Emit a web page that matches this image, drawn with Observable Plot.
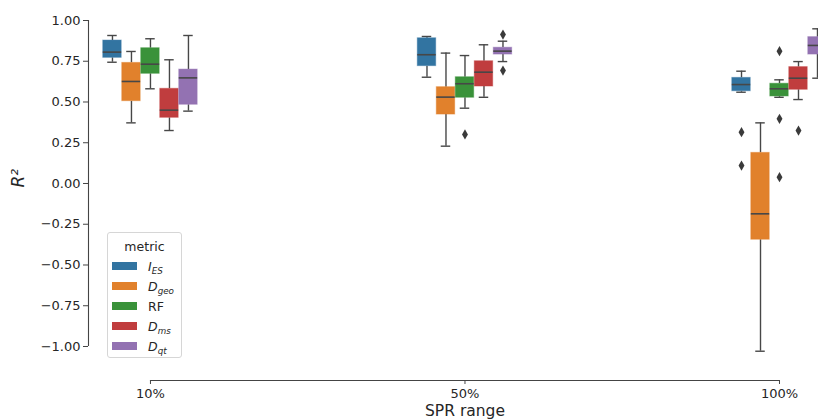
<!DOCTYPE html>
<html>
<head>
<meta charset="utf-8">
<script src="https://cdn.jsdelivr.net/npm/d3@7"></script>
<script src="https://cdn.jsdelivr.net/npm/@observablehq/plot@0.6"></script>
<style>
  html, body { margin: 0; padding: 0; background: #fff; }
  #wrap { position: relative; width: 818px; height: 420px; font-family: "DejaVu Sans", sans-serif; color: #262626; }
  .legend { position: absolute; left: 107px; top: 232px; width: 75px; height: 126px;
            border: 1px solid #d6d6d6; border-radius: 3px; background: rgba(255,255,255,0.85); box-sizing: border-box; }
  .legend .title { position: absolute; left: 0; right: 0; top: 6px; text-align: center; font-size: 12.5px; }
  .legend .item { position: absolute; left: 4px; height: 18px; display: flex; align-items: center; font-size: 12.5px; }
  .legend .sw { width: 25px; height: 8px; margin-right: 11px; }
  .legend sub { font-size: 70%; vertical-align: -0.35em; line-height: 0; }
</style>
</head>
<body>
<div id="wrap"></div>
<script>
// SPR range groups and the five metrics compared in each
const ranges = ["10%", "50%", "100%"];
const metrics = ["I_ES", "D_geo", "RF", "D_ms", "D_qt"];
const metricLabels = ["<i>I</i><sub><i>ES</i></sub>", "<i>D</i><sub><i>geo</i></sub>", "RF",
                      "<i>D</i><sub><i>ms</i></sub>", "<i>D</i><sub><i>qt</i></sub>"];
const colors = ["#3274a1", "#e1812c", "#3a923a", "#c03d3e", "#9372b2"];

// Box statistics of R²: one row per SPR range, one column per metric
const whiskerLow  = [[0.744, 0.372, 0.581, 0.325, 0.444],
                     [0.652, 0.229, 0.462, 0.529, 0.748],
                     [0.560, -1.029, 0.529, 0.515, 0.646]];
const q1          = [[0.771, 0.505, 0.673, 0.403, 0.483],
                     [0.720, 0.423, 0.526, 0.595, 0.791],
                     [0.566, -0.345, 0.534, 0.575, 0.791]];
const median      = [[0.806, 0.626, 0.732, 0.450, 0.648],
                     [0.790, 0.530, 0.612, 0.683, 0.812],
                     [0.607, -0.186, 0.581, 0.646, 0.847]];
const q3          = [[0.877, 0.740, 0.830, 0.581, 0.699],
                     [0.891, 0.591, 0.652, 0.750, 0.833],
                     [0.648, 0.188, 0.612, 0.714, 0.898]];
const whiskerHigh = [[0.908, 0.810, 0.888, 0.759, 0.908],
                     [0.902, 0.800, 0.785, 0.851, 0.873],
                     [0.689, 0.372, 0.636, 0.748, 0.949]];

// Fliers beyond the whiskers
const outlierRange  = ["50%", "50%", "50%", "100%", "100%", "100%", "100%", "100%", "100%"];
const outlierMetric = ["RF", "D_qt", "D_qt", "I_ES", "I_ES", "RF", "RF", "RF", "D_ms"];
const outlierValue  = [0.301, 0.914, 0.693, 0.315, 0.110, 0.812, 0.397, 0.039, 0.325];

const yTicks = [-1, -0.75, -0.5, -0.25, 0, 0.25, 0.5, 0.75, 1];

// Layout: groups sit at 0, 1, 2 on x; boxes are dodged by `slot` within a group
const slot = 0.0604;
const boxHalf = slot * 0.97 / 2;
const capHalf = slot * 0.25;
const xDomain = [-0.197, 2.124];
const yDomain = [-1.2086, 1.1227];
const gray = "#474747";

const pos = (range, metric) =>
  ranges.indexOf(range) + (metrics.indexOf(metric) - (metrics.length - 1) / 2) * slot;

const boxes = ranges.flatMap((r, i) => metrics.map((m, j) => ({
  range: r, metric: m, x: pos(r, m),
  lo: whiskerLow[i][j], q1: q1[i][j], med: median[i][j], q3: q3[i][j], hi: whiskerHigh[i][j]
})));
const outliers = outlierValue.map((v, k) => ({x: pos(outlierRange[k], outlierMetric[k]), value: v}));

const chart = Plot.plot({
  width: 818,
  height: 420,
  marginLeft: 88,
  marginRight: 0,
  marginTop: 0,
  marginBottom: 40,
  style: {fontFamily: "DejaVu Sans, sans-serif", fontSize: "13px", color: "#262626", background: "transparent"},
  x: {domain: xDomain},
  y: {domain: yDomain},
  color: {domain: metrics, range: colors},
  marks: [
    // spines, trimmed to the tick range
    Plot.ruleX([xDomain[0]], {y1: -1, y2: 1, stroke: "#444", strokeWidth: 1.1}),
    Plot.ruleY([yDomain[0]], {x1: 0, x2: 2, stroke: "#444", strokeWidth: 1.1}),
    Plot.axisY({ticks: yTicks, tickFormat: d3.format(".2f"), tickSize: 5, tickPadding: 3,
                label: null, stroke: "#444", fontSize: 13}),
    Plot.axisX({ticks: [0, 1, 2], tickFormat: (i) => ranges[i], tickSize: 4, tickPadding: 4,
                label: null, stroke: "#444", fontSize: 13}),
    Plot.text([{label: "SPR range", at: 1}], {x: "at", text: "label", frameAnchor: "bottom",
                dy: 35, fontSize: 15.5, fill: "#262626"}),
    Plot.text([{label: "R²", at: 0}], {y: "at", text: "label", frameAnchor: "left", dx: -70, dy: 4,
                rotate: -90, fontSize: 17, fontStyle: "italic", fill: "#262626"}),
    // whiskers and caps
    Plot.ruleX(boxes, {x: "x", y1: "lo", y2: "q1", stroke: gray, strokeWidth: 1.4}),
    Plot.ruleX(boxes, {x: "x", y1: "q3", y2: "hi", stroke: gray, strokeWidth: 1.4}),
    Plot.ruleY(boxes, {y: "lo", x1: (d) => d.x - capHalf, x2: (d) => d.x + capHalf, stroke: gray, strokeWidth: 1.4}),
    Plot.ruleY(boxes, {y: "hi", x1: (d) => d.x - capHalf, x2: (d) => d.x + capHalf, stroke: gray, strokeWidth: 1.4}),
    // interquartile boxes
    Plot.rectY(boxes, {x1: (d) => d.x - boxHalf, x2: (d) => d.x + boxHalf, y1: "q1", y2: "q3",
                       fill: "metric", stroke: "metric", strokeOpacity: 0.45, strokeWidth: 1}),
    // medians
    Plot.ruleY(boxes, {y: "med", x1: (d) => d.x - boxHalf, x2: (d) => d.x + boxHalf, stroke: gray, strokeWidth: 1.6}),
    // fliers
    Plot.dot(outliers, {x: "x", y: "value", symbol: "diamond", r: 3.1, fill: "#3a3a3a", stroke: "none"})
  ]
});

const wrap = document.getElementById("wrap");
wrap.appendChild(chart);

// legend drawn inside the plot area
const legend = document.createElement("div");
legend.className = "legend";
legend.innerHTML = `<div class="title">metric</div>` + metrics.map((m, k) =>
  `<div class="item" style="top:${24 + k * 20}px"><span class="sw" style="background:${colors[k]}"></span><span>${metricLabels[k]}</span></div>`
).join("");
wrap.appendChild(legend);
</script>
</body>
</html>
